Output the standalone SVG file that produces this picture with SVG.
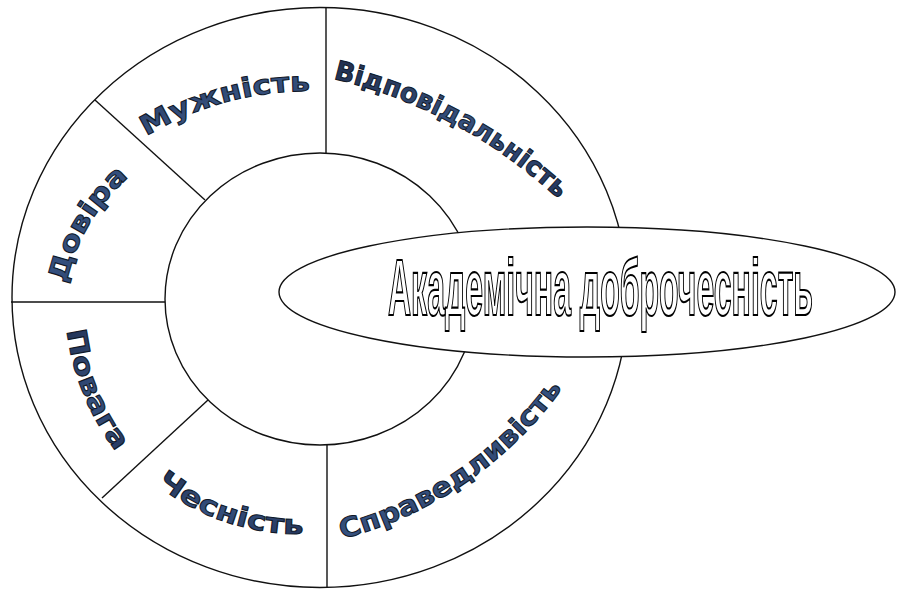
<svg xmlns="http://www.w3.org/2000/svg" width="898" height="589" viewBox="0 0 898 589">
  <style>
    .ln { fill: none; stroke: #111; stroke-width: 1.4; }
    .wf { fill: #fff; stroke: #111; stroke-width: 1.4; }
    .arc { font-family: "DejaVu Sans", "Liberation Sans", sans-serif; font-weight: bold; font-size: 27px; fill: url(#navy); stroke: #101828; stroke-width: 1; }
    .title { font-family: "Liberation Sans", Arial, sans-serif; font-weight: bold; font-size: 80px; fill: #fff; stroke: #000; stroke-width: 2.2; }
  </style>
  <defs>
    <linearGradient id="navy" x1="0" y1="0" x2="1" y2="1">
      <stop offset="0" stop-color="#1f2e4e"/>
      <stop offset="0.5" stop-color="#35507e"/>
      <stop offset="1" stop-color="#22345a"/>
    </linearGradient>
    <path id="p-muzh" d="M146.3,136.3 A315,315 0 0 1 312.3,91"/>
    <path id="p-vidp" d="M333.3,78.8 A491,491 0 0 1 559.3,200.2"/>
    <path id="p-dovira" d="M66.2,283.8 A195,195 0 0 1 130.4,175.7"/>
    <path id="p-povaga" d="M66.9,330.5 A250,250 0 0 0 117.4,453.2"/>
    <path id="p-chesn" d="M156.3,484.6 A234,234 0 0 0 304.9,534"/>
    <path id="p-sprav" d="M342.1,538.9 A393,393 0 0 0 564,386.1"/>
  </defs>
  <rect width="898" height="589" fill="#fff"/>

  <g id="ring">
    <ellipse class="wf" cx="320" cy="297.5" rx="308" ry="290"/>
    <ellipse class="ln" cx="320" cy="299" rx="155" ry="146"/>
  </g>

  <g id="connectors">
    <line class="ln" x1="326" y1="8" x2="326" y2="153"/>
    <line class="ln" x1="327" y1="445" x2="327" y2="587"/>
    <line class="ln" x1="11" y1="302" x2="165" y2="302"/>
    <line class="ln" x1="95" y1="100" x2="205" y2="200"/>
    <line class="ln" x1="102" y1="498" x2="208" y2="400"/>
  </g>

  <g id="center">
    <ellipse class="wf" cx="587" cy="292" rx="308" ry="65"/>
    <text class="title" x="388" y="315" textLength="425" lengthAdjust="spacingAndGlyphs">Академічна доброчесність</text>
  </g>

  <g id="node-muzhnist">
    <text class="arc"><textPath href="#p-muzh" textLength="172" lengthAdjust="spacingAndGlyphs">Мужність</textPath></text>
  </g>
  <g id="node-vidpovidalnist">
    <text class="arc"><textPath href="#p-vidp" textLength="258" lengthAdjust="spacingAndGlyphs">Відповідальність</textPath></text>
  </g>
  <g id="node-dovira">
    <text class="arc"><textPath href="#p-dovira" textLength="126" lengthAdjust="spacingAndGlyphs">Довіра</textPath></text>
  </g>
  <g id="node-povaga">
    <text class="arc"><textPath href="#p-povaga" textLength="132" lengthAdjust="spacingAndGlyphs">Повага</textPath></text>
  </g>
  <g id="node-chesnist">
    <text class="arc"><textPath href="#p-chesn" textLength="158" lengthAdjust="spacingAndGlyphs">Чесність</textPath></text>
  </g>
  <g id="node-spravedlyvist">
    <text class="arc"><textPath href="#p-sprav" textLength="272" lengthAdjust="spacingAndGlyphs">Справедливість</textPath></text>
  </g>
</svg>
